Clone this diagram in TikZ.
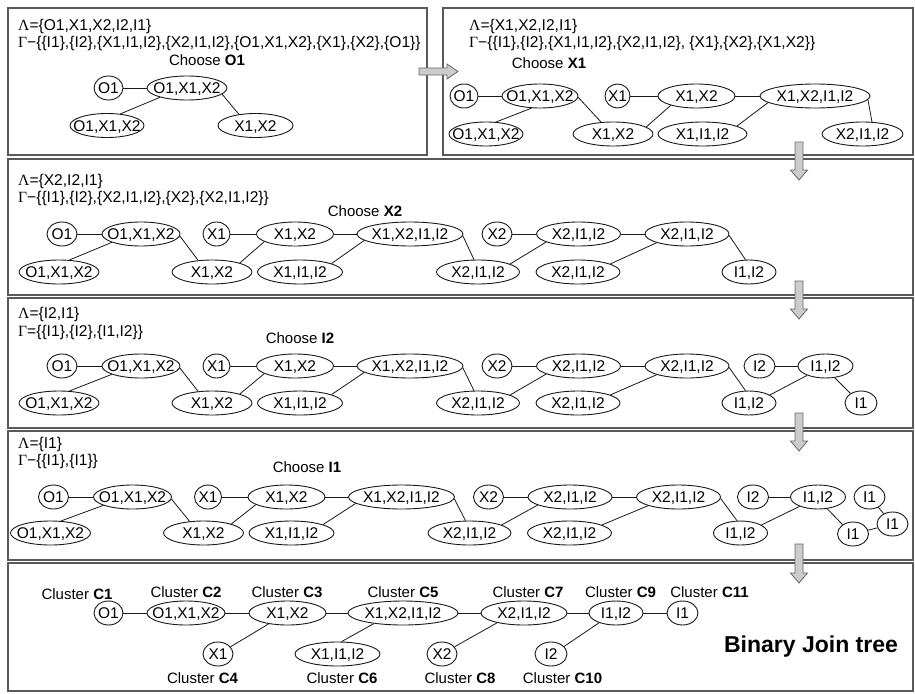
\documentclass[tikz,border=0pt]{standalone}
\usepackage{fontspec}
\setmainfont{Liberation Sans}
\newfontfamily\grk{Liberation Serif}
\usetikzlibrary{shapes.geometric}
\newcommand\labfont{\fontsize{15.5}{18}\selectfont}
\newcommand\hdrfont{\fontsize{15.6}{18}\selectfont}
\newcommand\clfont{\fontsize{15}{18}\selectfont}
\newcommand\ec[1]{\hbox to 0pt{\hss#1\hss}}
\tikzset{
  el/.style={ellipse, draw=black!90, line width=0.9pt, inner sep=0pt,
    minimum height=24pt, minimum width=#1, font=\labfont,
    text height=11.1pt, text depth=0pt},
  ed/.style={draw=black!90, line width=0.8pt},
  panel/.style={draw=black!65, line width=1.2pt},
  blockarrow/.style={fill=black!20, draw=black!60, line width=0.8pt, line join=miter},
  hdr/.style={anchor=west, inner sep=0pt, font=\hdrfont, text height=11.2pt, text depth=0pt},
  clab/.style={inner sep=0pt, font=\clfont, text height=10.7pt, text depth=0pt},
}
% repeated part of the growing tree: #1 prefix, #2 x shift, #3 top row y, #4 bottom row y
\newcommand\jtree[4]{%
  \node[el=30pt]  (#1o) at ({62+#2},#3)    {\ec{O1}};
  \node[el=78pt]  (#1t) at ({141+#2},#3)   {\ec{O1,X1,X2}};
  \node[el=80pt]  (#1b) at ({59+#2},#4)    {\ec{O1,X1,X2}};
  \node[el=27pt]  (#1x) at ({216.5+#2},#3) {\ec{X1}};
  \node[el=77pt]  (#1e) at ({295+#2},#3)   {\ec{X1,X2}};
  \node[el=80pt]  (#1d) at ({212+#2},#4)   {\ec{X1,X2}};
  \node[el=106pt] (#1f) at ({410+#2},#3)   {\ec{X1,X2,I1,I2}};
  \node[el=85pt]  (#1g) at ({300+#2},#4)   {\ec{X1,I1,I2}};
  \node[el=83pt]  (#1h) at ({478+#2},#4)   {\ec{X2,I1,I2}};
  \node[el=30pt]  (#1y) at ({497+#2},#3)   {\ec{X2}};
  \node[el=84pt]  (#1j) at ({578.5+#2},#3) {\ec{X2,I1,I2}};
  \node[el=84pt]  (#1l) at ({578+#2},#4)   {\ec{X2,I1,I2}};
  \node[el=84pt]  (#1k) at ({687+#2},#3)   {\ec{X2,I1,I2}};
  \node[el=54pt]  (#1m) at ({749+#2},#4)   {\ec{I1,I2}};
  \draw[ed] (#1o) -- (#1t);
  \draw[ed] (#1t.196) -- (#1b.49);
  \draw[ed] (#1t.-3) -- (#1d.140);
  \draw[ed] (#1x) -- (#1e);
  \draw[ed] (#1d.18) -- (#1e.194);
  \draw[ed] (#1e) -- (#1f);
  \draw[ed] (#1g.15) -- (#1f.188);
  \draw[ed] (#1f.-2) -- (#1h.108);
  \draw[ed] (#1y) -- (#1j);
  \draw[ed] (#1h.14) -- (#1j.194);
  \draw[ed] (#1j) -- (#1k);
  \draw[ed] (#1l.14) -- (#1k.196);
  \draw[ed] (#1k.-2) -- (#1m.106);
}
\begin{document}
\begin{tikzpicture}[x=1pt,y=-1pt]
\useasboundingbox (0,0) rectangle (915,693);
\fill[white] (0,0) rectangle (915,693);

% panels
\draw[panel] (8,8) rectangle (427,155);
\draw[panel] (443,8) rectangle (913,155);
\draw[panel] (8,159) rectangle (913,295);
\draw[panel] (8,298) rectangle (913,428);
\draw[panel] (8,431) rectangle (913,560);
\draw[panel] (8,563) rectangle (913,691);

% ---------- panel 1
\node[hdr] (h1a) at (18,25) {{\grk Λ}=\{O1,X1,X2,I2,I1\}};
\node[hdr] (h1b) at (18,42) {{\grk Γ}−\{\{I1\},\{I2\},\{X1,I1,I2\},\{X2,I1,I2\},\{O1,X1,X2\},\{X1\},\{X2\},\{O1\}\}};
\node[clab] (ch1) at (207,60) {Choose \textbf{O1}};
\node[el=29pt] (a1) at (108.5,88) {\ec{O1}};
\node[el=80pt] (a2) at (187,88) {\ec{O1,X1,X2}};
\node[el=74pt] (a3) at (107,125.5) {\ec{O1,X1,X2}};
\node[el=75pt] (a4) at (255.5,125.5) {\ec{X1,X2}};
\draw[ed] (a1) -- (a2);
\draw[ed] (a2.199) -- (a3.41);
\draw[ed] (a2.-10) -- (a4.146);

% ---------- panel 2
\node[hdr] (h2a) at (469,25) {{\grk Λ}=\{X1,X2,I2,I1\}};
\node[hdr] (h2b) at (469,42) {{\grk Γ}−\{\{I1\},\{I2\},\{X1,I1,I2\},\{X2,I1,I2\}, \{X1\},\{X2\},\{X1,X2\}\}};
\node[clab] (ch2) at (549,63) {Choose \textbf{X1}};
\node[el=28pt]  (s1) at (464,96)    {\ec{O1}};
\node[el=76pt]  (s2) at (540,96)    {\ec{O1,X1,X2}};
\node[el=74pt]  (s3) at (486,134)   {\ec{O1,X1,X2}};
\node[el=25pt]  (s4) at (617.5,96)  {\ec{X1}};
\node[el=77pt]  (s5) at (696.5,96)  {\ec{X1,X2}};
\node[el=80pt]  (s6) at (613,134)   {\ec{X1,X2}};
\node[el=110pt] (s7) at (815,96)    {\ec{X1,X2,I1,I2}};
\node[el=89pt]  (s8) at (702.5,134) {\ec{X1,I1,I2}};
\node[el=81pt]  (s9) at (862.5,134) {\ec{X2,I1,I2}};
\draw[ed] (s1) -- (s2);
\draw[ed] (s2.235) -- (s3.50);
\draw[ed] (s2.-2) -- (s6.135);
\draw[ed] (s4) -- (s5);
\draw[ed] (s6.12) -- (s5.200);
\draw[ed] (s5) -- (s7);
\draw[ed] (s8.13) -- (s7.188);
\draw[ed] (s7.-4) -- (s9.52);

% ---------- panel 3
\node[hdr] (h3a) at (18,180) {{\grk Λ}=\{X2,I2,I1\}};
\node[hdr] (h3b) at (18,197) {{\grk Γ}−\{\{I1\},\{I2\},\{X2,I1,I2\},\{X2\},\{X2,I1,I2\}\}};
\node[clab] (ch3) at (365,211) {Choose \textbf{X2}};
\jtree{p}{0}{234}{272}

% ---------- panel 4
\node[hdr] (h4a) at (18,313) {{\grk Λ}=\{I2,I1\}};
\node[hdr] (h4b) at (18,331) {{\grk Γ}=\{\{I1\},\{I2\},\{I1,I2\}\}};
\node[clab] (ch4) at (300,338) {Choose \textbf{I2}};
\jtree{q}{0}{366}{403}
\node[el=31pt] (qi2) at (759.5,366) {\ec{I2}};
\node[el=55pt] (qn)  at (825.5,366) {\ec{I1,I2}};
\node[el=32pt] (qi1) at (861,403)   {\ec{I1}};
\draw[ed] (qi2) -- (qn);
\draw[ed] (qm.21) -- (qn.207);
\draw[ed] (qn.-52) -- (qi1.138);

% ---------- panel 5
\node[hdr] (h5a) at (18,443) {{\grk Λ}=\{I1\}};
\node[hdr] (h5b) at (18,460) {{\grk Γ}−\{\{I1\},\{I1\}\}};
\node[clab] (ch5) at (307,467) {Choose \textbf{I1}};
\jtree{r}{-8.5}{497}{533}
\node[el=31pt] (ri2) at (753,497)   {\ec{I2}};
\node[el=55pt] (rn)  at (818,497)   {\ec{I1,I2}};
\node[el=31pt] (ri1) at (853,534)   {\ec{I1}};
\node[el=31pt] (rr)  at (869.5,497) {\ec{I1}};
\node[el=31pt] (rs)  at (892.5,524) {\ec{I1}};
\draw[ed] (ri2) -- (rn);
\draw[ed] (rm.21) -- (rn.207);
\draw[ed] (rn.-52) -- (ri1.138);
\draw[ed] (rr) -- (rs);
\draw[ed] (ri1) -- (rs);

% ---------- panel 6 : binary join tree
\node[el=29pt]  (c1n)  at (108.5,613) {\ec{O1}};
\node[el=78pt]  (c2n)  at (186,613)   {\ec{O1,X1,X2}};
\node[el=77pt]  (c3n)  at (287.5,613) {\ec{X1,X2}};
\node[el=110pt] (c5n)  at (403,613)   {\ec{X1,X2,I1,I2}};
\node[el=86pt]  (c7n)  at (524,613)   {\ec{X2,I1,I2}};
\node[el=54pt]  (c9n)  at (616,613)   {\ec{I1,I2}};
\node[el=31pt]  (c11n) at (682.5,613) {\ec{I1}};
\node[el=30pt]  (c4n)  at (218,654)   {\ec{X1}};
\node[el=85pt]  (c6n)  at (337.5,654) {\ec{X1,I1,I2}};
\node[el=30pt]  (c8n)  at (442,654)   {\ec{X2}};
\node[el=32pt]  (c10n) at (551,654)   {\ec{I2}};
\draw[ed] (c1n) -- (c2n);
\draw[ed] (c2n) -- (c3n);
\draw[ed] (c3n) -- (c5n);
\draw[ed] (c5n) -- (c7n);
\draw[ed] (c7n) -- (c9n);
\draw[ed] (c9n) -- (c11n);
\draw[ed] (c4n.30) -- (c3n.210);
\draw[ed] (c6n.72) -- (c5n.200);
\draw[ed] (c8n.30) -- (c7n.200);
\draw[ed] (c10n.30) -- (c9n.210);
\node[clab] (l1)  at (77,594)    {Cluster \textbf{C1}};
\node[clab] (l2)  at (186,592)   {Cluster \textbf{C2}};
\node[clab] (l3)  at (287,592)   {Cluster \textbf{C3}};
\node[clab] (l5)  at (403,592)   {Cluster \textbf{C5}};
\node[clab] (l7)  at (528,592)   {Cluster \textbf{C7}};
\node[clab] (l9)  at (620.5,592) {Cluster \textbf{C9}};
\node[clab] (l11) at (709.5,592) {Cluster \textbf{C11}};
\node[clab] (l4)  at (202.5,678) {Cluster \textbf{C4}};
\node[clab] (l6)  at (342,678)   {Cluster \textbf{C6}};
\node[clab] (l8)  at (460,678)   {Cluster \textbf{C8}};
\node[clab] (l10) at (562.5,678) {Cluster \textbf{C10}};
\node[inner sep=0pt, font=\fontsize{23}{27}\selectfont\bfseries, text height=16.5pt, text depth=0pt] (bjt) at (811,644) {Binary Join tree};

% ---------- block arrows
\draw[blockarrow] (419,68) -- (447,68) -- (447,64) -- (458,71.5) -- (447,79) -- (447,75) -- (419,75) -- cycle;
\draw[blockarrow] (795,142) -- (803,142) -- (803,170) -- (807.5,170) -- (799,180) -- (790.5,170) -- (795,170) -- cycle;
\draw[blockarrow] (795,281) -- (803,281) -- (803,309) -- (807.5,309) -- (799,319) -- (790.5,309) -- (795,309) -- cycle;
\draw[blockarrow] (795,413) -- (803,413) -- (803,441) -- (807.5,441) -- (799,451) -- (790.5,441) -- (795,441) -- cycle;
\draw[blockarrow] (795,544) -- (803,544) -- (803,573) -- (807.5,573) -- (799,583) -- (790.5,573) -- (795,573) -- cycle;
\end{tikzpicture}
\end{document}
